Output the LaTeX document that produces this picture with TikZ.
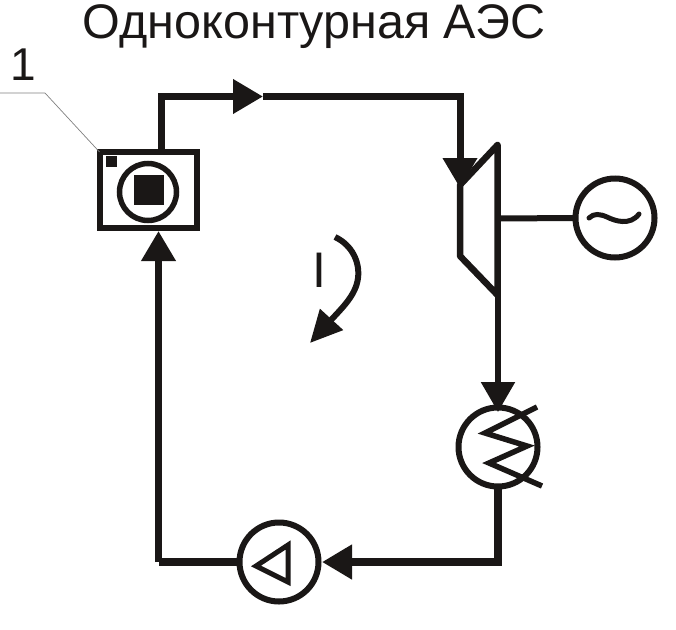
\documentclass[tikz,border=0pt]{standalone}
\usepackage{fontspec}
\setmainfont{Liberation Sans}
\usetikzlibrary{arrows.meta,calc}
\definecolor{ink}{HTML}{1A1716}
\tikzset{
  pipe/.style={draw=ink,line width=7pt,line cap=butt,line join=miter},
  thinpipe/.style={draw=ink,line width=5.5pt},
  unit/.style={circle,draw=ink,line width=6pt,minimum size=79pt,inner sep=0pt,outer sep=0pt,fill=white},
  head/.style={-{Triangle[length=30pt,width=33pt,fill=ink,color=ink]}},
  symbol/.style={draw=ink,line width=5.5pt,line join=miter},
  lbl/.style={inner sep=0pt,text=ink,anchor=base},
}
\begin{document}
\begin{tikzpicture}[x=1pt,y=-1pt]
\useasboundingbox (0,0) rectangle (676,629);
% nodes
\node[lbl,font=\fontsize{48.5}{48.5}\selectfont] (title) at (314,38) {Одноконтурная АЭС};
\node[lbl,font=\fontsize{46}{46}\selectfont] (one) at (23,80) {1};
\node[draw=ink,line width=6pt,minimum width=97pt,minimum height=76pt,inner sep=0pt,outer sep=0pt] (reactor) at (148,190) {};
\node[circle,draw=ink,line width=5.5pt,minimum size=57pt,inner sep=0pt,outer sep=0pt] (core) at (148,192) {};
\node[fill=ink,minimum size=30pt,inner sep=0pt] (rod) at (149,190) {};
\node[fill=ink,minimum size=11pt,inner sep=0pt] (mark) at (111,161) {};
\node[unit] (gen) at (615,218) {};
\node[unit] (cond) at (498,447) {};
\node[unit] (pump) at (279,562) {};
\node[lbl,font=\fontsize{50}{50}\selectfont] (cycle) at (319.5,287) {I};
% turbine
\coordinate (tIn) at (460,185);
\coordinate (tTop) at (497.5,145);
\coordinate (tBot) at (497.5,295);
\coordinate (tLow) at (460,256);
\coordinate (tShaft) at (497.5,218.5);
\draw[symbol,line width=6.5pt,line join=round] (tIn) -- (tTop) -- (tBot) -- (tLow) -- cycle;
% leader
\coordinate (leadStart) at (0,93);
\coordinate (leadBend) at (45,93);
\draw[gray,line width=0.7pt] (leadStart) -- (leadBend) -- (reactor.north west);
% piping
\coordinate (reactorOut) at (161,152);
\coordinate (a1) at (263,96.5);
\coordinate (a2) at (460,188);
\coordinate (turbOut) at (498,295);
\coordinate (a3) at (498,412);
\coordinate (a4) at (322,562);
\coordinate (pumpOut) at (158.5,562);
\coordinate (a5) at (158.5,231);
\draw[pipe,head] (reactorOut) |- (a1);
\draw[pipe,line cap=butt] (a1) -| ($(a2)+(0,-20)$);
\draw[pipe,head] ($(a2)+(0,-35)$) -- (a2);
\draw[thinpipe,head] (turbOut) -- (a3);
\draw[pipe,line width=8pt,head] (cond.south) |- (a4);
\draw[pipe,line width=8pt] (pump.west) -| (pumpOut);
\draw[pipe,head] (pumpOut) -- (a5);
\draw[pipe,line width=6pt] (tShaft) -- (gen.west);
% tilde
\draw[draw=ink,line width=5pt,line cap=round] (589,218) .. controls (594,213) and (600,214) .. (607,217) .. controls (615,221) and (630,226) .. (639,214);
% condenser coil
\draw[symbol] (537,407) -- (485,433) -- (527,446) -- (489,463) -- (542,486);
% pump triangle
\draw[symbol,line width=5pt] (256,566) -- (288,545) -- (288,582) -- cycle;
% cycle arrow
\coordinate (cycA) at (335,237);
\coordinate (cycB) at (330,320);
\draw[draw=ink,line width=6pt,-{Triangle[length=32pt,width=30pt,fill=ink,color=ink]}] (cycA) .. controls (352,245) and (360,262) .. (358,278) .. controls (356,295) and (342,308) .. (310,343);
\end{tikzpicture}
\end{document}
